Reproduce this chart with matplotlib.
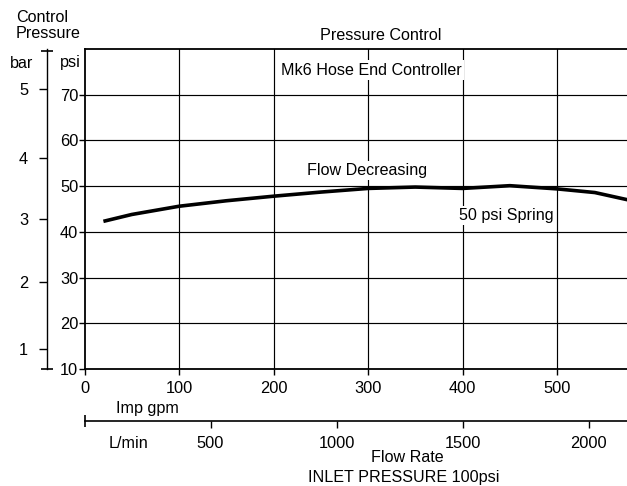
import matplotlib
matplotlib.use('Agg')
import matplotlib.pyplot as plt

# ---- data ----
flow_gpm = [20, 50, 100, 150, 200, 250, 300, 350, 400, 450, 500, 540, 575]
pressure_psi = [42.3, 43.8, 45.6, 46.8, 47.8, 48.7, 49.5, 49.8, 49.5, 50.1, 49.4, 48.6, 47.0]

psi_ticks = [10, 20, 30, 40, 50, 60, 70]
gpm_ticks = [0, 100, 200, 300, 400, 500]
lmin_ticks = [500, 1000, 1500, 2000]
bar_labels = ['1', '2', '3', '4', '5']
bar_psi = [14.4, 29.0, 42.8, 56.2, 71.2]   # positions of bar ticks as drawn in the chart
L_PER_GPM = 3.75

W, H = 627, 486
FONT = 'Liberation Sans'
FS = 11.6
TFS = 11.8
plt.rcParams['font.family'] = [FONT, 'DejaVu Sans']

fig = plt.figure(figsize=(W / 100, H / 100), dpi=100)

def fx(px):
    return px / W

def fy(py):
    return 1 - py / H

ax_left, ax_right, ax_top, ax_bot = 84.5, 627, 49, 369
ax = fig.add_axes([fx(ax_left), fy(ax_bot), fx(ax_right - ax_left), (ax_bot - ax_top) / H])
ax.set_xlim(0, 574)
ax.set_ylim(10, 80)

ax.set_yticks(psi_ticks)
ax.set_yticklabels([str(v) for v in psi_ticks])
ax.set_xticks(gpm_ticks)
ax.set_xticklabels([str(v) for v in gpm_ticks])
ax.tick_params(axis='y', direction='out', length=4, width=1, pad=0.5, labelsize=TFS)
ax.tick_params(axis='x', direction='out', length=4, width=1, pad=4.5, labelsize=TFS)

for v in psi_ticks[1:]:
    ax.axhline(v, color='black', lw=0.85, zorder=1)
for v in gpm_ticks[1:]:
    ax.axvline(v, color='black', lw=0.85, zorder=1)

for s in ['left', 'bottom', 'top']:
    ax.spines[s].set_linewidth(1.3)
    ax.spines[s].set_color('black')
ax.spines['right'].set_visible(False)

ax.plot(flow_gpm, pressure_psi, color='black', lw=2.6, solid_capstyle='butt',
        solid_joinstyle='round', zorder=3)

box = dict(facecolor='white', edgecolor='none', pad=1.5)
ax.text(299, 53.4, 'Flow Decreasing', ha='center', va='center', fontsize=FS, bbox=box, zorder=4)
ax.text(446, 43.6, '50 psi Spring', ha='center', va='center', fontsize=FS, bbox=box, zorder=4)
ax.text(304, 75.4, 'Mk6 Hose End Controller', ha='center', va='center', fontsize=FS,
        bbox=box, zorder=4)

# ---- L/min secondary axis ----
loc = (ax_bot - 421) / (ax_bot - ax_top)
sec = ax.secondary_xaxis(loc, functions=(lambda g: g * L_PER_GPM, lambda l: l / L_PER_GPM))
sec.set_xticks(lmin_ticks)
sec.set_xticklabels([str(v) for v in lmin_ticks])
sec.set_xticks([0], minor=True)
sec.tick_params(axis='x', which='major', direction='out', length=5, width=1, pad=5.5,
                labelsize=TFS)
sec.tick_params(axis='x', which='minor', direction='inout', length=9, width=1.2)
sec.spines['bottom'].set_linewidth(1.2)

# ---- bar axis ----
axb = fig.add_axes([fx(47), fy(ax_bot), 0.0001, (ax_bot - ax_top) / H])
axb.set_ylim(10, 80)
axb.set_xticks([])
for s in ['right', 'bottom', 'top']:
    axb.spines[s].set_visible(False)
axb.spines['left'].set_linewidth(1.0)
axb.patch.set_alpha(0)
axb.set_yticks(bar_psi)
axb.set_yticklabels(bar_labels)
axb.set_yticks([10, 79.6], minor=True)
axb.tick_params(axis='y', which='major', direction='out', length=6, width=1, pad=7.5,
                labelsize=TFS)
axb.tick_params(axis='y', which='minor', direction='inout', length=9, width=1.2)
axb.set_ylim(10, 80)

# ---- free texts ----
fig.text(fx(16), fy(17), 'Control', ha='left', va='center', fontsize=FS)
fig.text(fx(16), fy(33), 'Pressure', ha='left', va='center', fontsize=FS)
fig.text(fx(22), fy(63), 'bar', ha='center', va='center', fontsize=FS)
fig.text(fx(81), fy(63), 'psi', ha='right', va='center', fontsize=FS)
fig.text(fx(381), fy(35), 'Pressure Control', ha='center', va='center', fontsize=FS)
fig.text(fx(147), fy(408), 'Imp gpm', ha='center', va='center', fontsize=FS)
fig.text(fx(128), fy(443), 'L/min', ha='center', va='center', fontsize=FS)
fig.text(fx(407), fy(457), 'Flow Rate', ha='center', va='center', fontsize=FS)
fig.text(fx(404), fy(477), 'INLET PRESSURE 100psi', ha='center', va='center', fontsize=FS)

fig.savefig('out.png', dpi=100)
